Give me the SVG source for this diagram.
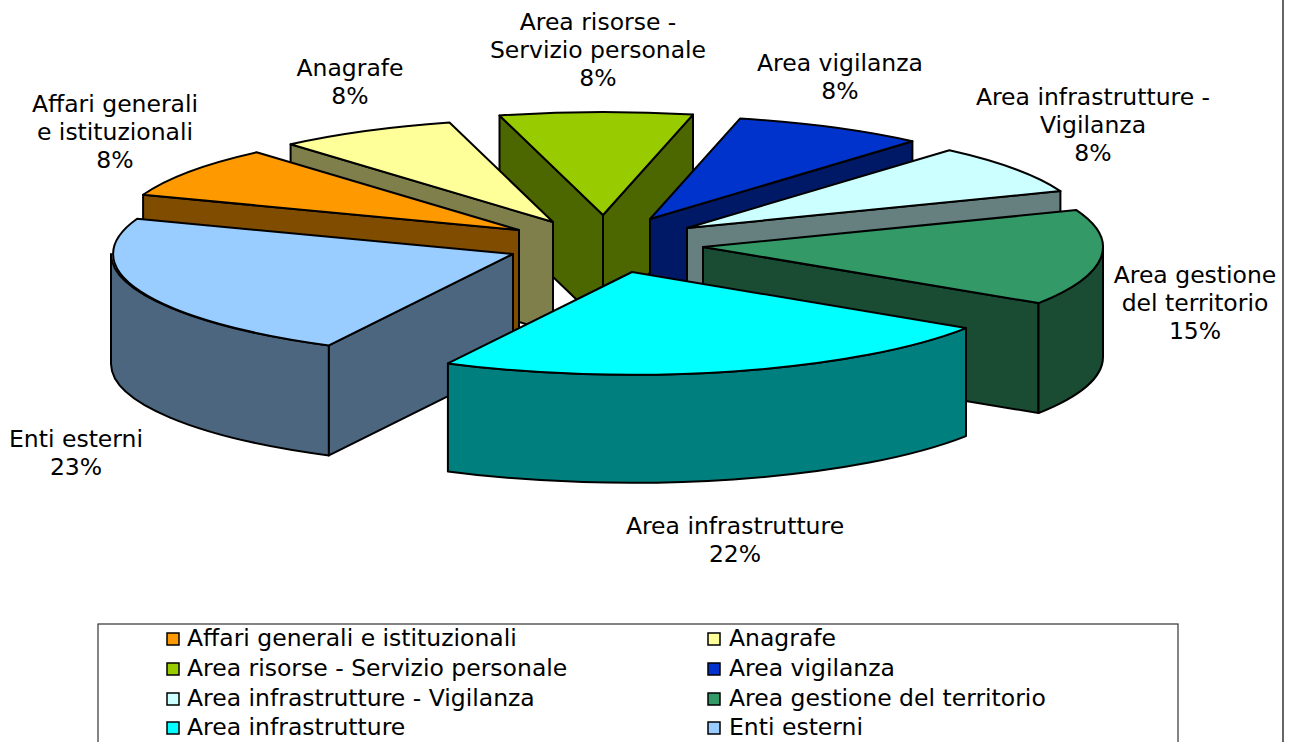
<svg xmlns="http://www.w3.org/2000/svg" width="1294" height="742" viewBox="0 0 1294 742">
<style>
.f{stroke:#000;stroke-width:2;stroke-linejoin:round}
.t{font-family:"DejaVu Sans",Verdana,sans-serif;font-size:23.5px;fill:#000;text-anchor:middle}
.lt{font-family:"DejaVu Sans",Verdana,sans-serif;font-size:23.5px;fill:#000}
.sq{stroke:#000;stroke-width:1.5}
</style>
<rect x="0" y="0" width="1294" height="742" fill="#fff"/>
<line x1="1283" y1="0" x2="1283" y2="742" stroke="#333" stroke-width="1.5"/>

<g id="slice-risorse">
<path class="f" fill="#4C6600" d="M603,215 L499.5,115.5 L499.5,225.5 L603,325 Z"/>
<path class="f" fill="#4C6600" d="M603,215 L693,114.6 L693,224.6 L603,325 Z"/>
<path class="f" fill="#99CC00" d="M603,215 L499.5,115.5 A400,103 0 0 1 693,114.6 Z"/>
<text class="t" x="598" y="30">Area risorse -</text>
<text class="t" x="598" y="58">Servizio personale</text>
<text class="t" x="598" y="86">8%</text>
</g>

<g id="slice-vigilanza">
<path class="f" fill="#001966" d="M650,219 L912.4,141.3 L912.4,251.3 L650,329 Z"/>
<path class="f" fill="#0033CC" d="M650,219 L740,118.6 A400,103 0 0 1 912.4,141.3 Z"/>
<text class="t" x="840" y="71">Area vigilanza</text>
<text class="t" x="840" y="99">8%</text>
</g>

<g id="slice-infra-vigilanza">
<path class="f" fill="#667F7F" d="M687,228 L1060.4,191.1 L1060.4,301.1 L687,338 Z"/>
<path class="f" fill="#CCFFFF" d="M687,228 L949.4,150.3 A400,103 0 0 1 1060.4,191.1 Z"/>
<text class="t" x="1093" y="105">Area infrastrutture -</text>
<text class="t" x="1093" y="133">Vigilanza</text>
<text class="t" x="1093" y="161">8%</text>
</g>

<g id="slice-gestione">
<path class="f" fill="#194C33" d="M703,247 L1038.5,303.1 L1038.5,413.1 L703,357 Z"/>
<path class="f" fill="#194C33" d="M1103,247 A400,103 0 0 1 1038.5,303.1 L1038.5,413.1 A400,103 0 0 0 1103,357 Z"/>
<path class="f" fill="#339966" d="M703,247 L1076.4,210.1 A400,103 0 0 1 1038.5,303.1 Z"/>
<text class="t" x="1195" y="283">Area gestione</text>
<text class="t" x="1195" y="311">del territorio</text>
<text class="t" x="1195" y="339">15%</text>
</g>

<g id="slice-anagrafe">
<path class="f" fill="#7F7F4C" d="M553,222 L290.6,144.3 L290.6,254.3 L553,332 Z"/>
<path class="f" fill="#FFFF99" d="M553,222 L290.6,144.3 A400,103 0 0 1 449.5,122.5 Z"/>
<text class="t" x="350" y="76">Anagrafe</text>
<text class="t" x="350" y="104">8%</text>
</g>

<g id="slice-affari">
<path class="f" fill="#7F4C00" d="M519,230 L143.1,194.8 L143.1,304.8 L519,340 Z"/>
<path class="f" fill="#FF9900" d="M519,230 L143.1,194.8 A400,103 0 0 1 256.6,152.3 Z"/>
<text class="t" x="115" y="112">Affari generali</text>
<text class="t" x="115" y="140">e istituzionali</text>
<text class="t" x="115" y="168">8%</text>
</g>

<g id="slice-enti">
<path class="f" fill="#4C667F" d="M328.9,345.4 A400,103 0 0 1 111,254 L111,364 A400,103 0 0 0 328.9,455.4 Z"/>
<path class="f" fill="#4C667F" d="M513,254 L328.9,345.4 L328.9,455.4 L513,364 Z"/>
<path class="f" fill="#99CCFF" d="M513,254 L328.9,345.4 A400,103 0 0 1 137.1,218.8 Z"/>
<text class="t" x="76" y="447">Enti esterni</text>
<text class="t" x="76" y="475">23%</text>
</g>

<g id="slice-infrastrutture">
<path class="f" fill="#007F7F" d="M966,328.1 A400,103 0 0 1 447.9,363.4 L447.9,471.4 A400,103 0 0 0 966,436.1 Z"/>
<path class="f" fill="#00FFFF" d="M632,272 L966,328.1 A400,103 0 0 1 447.9,363.4 Z"/>
<text class="t" x="735" y="534">Area infrastrutture</text>
<text class="t" x="735" y="562">22%</text>
</g>

<g id="legend">
<rect x="98" y="624" width="1080" height="130" fill="#fff" stroke="#333" stroke-width="1.2"/>
<rect class="sq" x="167" y="633" width="12" height="12" fill="#FF9900"/>
<text class="lt" x="187" y="646">Affari generali e istituzionali</text>
<rect class="sq" x="708" y="633" width="12" height="12" fill="#FFFF99"/>
<text class="lt" x="729" y="646">Anagrafe</text>
<rect class="sq" x="167" y="663" width="12" height="12" fill="#99CC00"/>
<text class="lt" x="187" y="676">Area risorse - Servizio personale</text>
<rect class="sq" x="708" y="663" width="12" height="12" fill="#0033CC"/>
<text class="lt" x="729" y="676">Area vigilanza</text>
<rect class="sq" x="167" y="693" width="12" height="12" fill="#CCFFFF"/>
<text class="lt" x="187" y="706">Area infrastrutture - Vigilanza</text>
<rect class="sq" x="708" y="693" width="12" height="12" fill="#339966"/>
<text class="lt" x="729" y="706">Area gestione del territorio</text>
<rect class="sq" x="167" y="722" width="12" height="12" fill="#00FFFF"/>
<text class="lt" x="187" y="735">Area infrastrutture</text>
<rect class="sq" x="708" y="722" width="12" height="12" fill="#99CCFF"/>
<text class="lt" x="729" y="735">Enti esterni</text>
</g>
</svg>
